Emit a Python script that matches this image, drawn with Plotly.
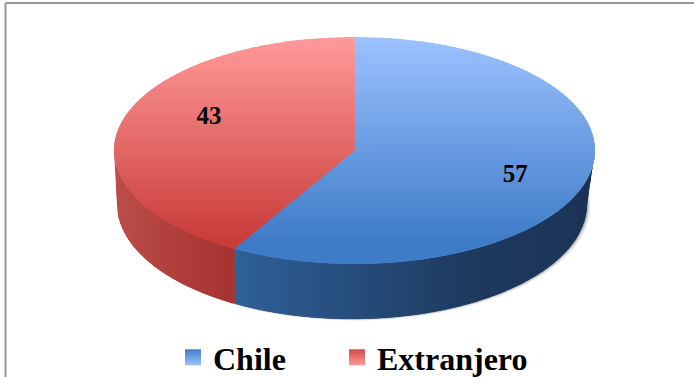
import math
import plotly.graph_objects as go

categories = ["Chile", "Extranjero"]
values = [57, 43]

W, H = 694, 377
PLOT_H = 330  # height left for the plot once the legends have reserved their room
TOP = dict(cx=354.5, cy=150.5, rx=240.5, ry=113.5)
BOT = dict(cx=352.0, cy=204.0, rx=235.0, ry=115.0)
PERSPECTIVE = 1.227
FONT = "Liberation Serif"
TOP_STOPS = {
    "Chile": [(37, "#9CC2FF"), (240, "#3F7CC8")],
    "Extranjero": [(37, "#FF9A9A"), (240, "#C93C39")],
}
SIDE_STOPS = {
    "Chile": [(234, "#2F6099"), (470, "#1E3A5F"), (596, "#1B3355")],
    "Extranjero": [(114, "#BC4D49"), (236, "#A5322E")],
}
LEGEND_TOP = {"Chile": "#9CC2FF", "Extranjero": "#FF9A9A"}
LEGEND_BOT = {"Chile": "#3F7CC8", "Extranjero": "#CF4B47"}
LEGEND_LEFT = {"Chile": 173, "Extranjero": 337}
LEGEND_MID_Y = 357.5
LABEL_R = [0.70, 0.677]
LABEL_SHIFT = [2.2, 11.7]
LABEL_DY = 2


def visual(deg):
    t = math.radians(deg)
    v = math.degrees(math.atan2(math.sin(t) * PERSPECTIVE, math.cos(t)))
    while v < deg - 90:
        v += 360
    return v


def pt(e, deg, r=1.0):
    t = math.radians(deg)
    return (e["cx"] + r * e["rx"] * math.sin(t), e["cy"] - r * e["ry"] * math.cos(t))


def arc(e, a, b, n=140):
    return [pt(e, a + (b - a) * i / n) for i in range(n + 1)]


def hexrgb(c):
    return tuple(int(c[i:i + 2], 16) for i in (1, 3, 5))


def ramp(stops, v):
    if v <= stops[0][0]:
        return stops[0][1]
    for (p0, c0), (p1, c1) in zip(stops, stops[1:]):
        if v <= p1:
            f = (v - p0) / (p1 - p0)
            a, b = hexrgb(c0), hexrgb(c1)
            return "#%02x%02x%02x" % tuple(round(a[i] + (b[i] - a[i]) * f) for i in range(3))
    return stops[-1][1]


def clip(poly, axis, lo, hi):
    def half(p, keep, cut):
        out = []
        for i in range(len(p)):
            s, e = p[i - 1], p[i]
            ks, ke = keep(s), keep(e)
            if ks != ke:
                f = (cut - s[axis]) / (e[axis] - s[axis])
                out.append((s[0] + (e[0] - s[0]) * f, s[1] + (e[1] - s[1]) * f))
            if ke:
                out.append(e)
        return out
    p = half(poly, lambda q: q[axis] >= lo, lo)
    return half(p, lambda q: q[axis] <= hi, hi) if p else p


fig = go.Figure()


def strip(poly, color):
    if len(poly) < 3:
        return
    fig.add_trace(go.Scatter(
        x=[q[0] for q in poly] + [poly[0][0]], y=[q[1] for q in poly] + [poly[0][1]],
        mode="lines", fill="toself", fillcolor=color,
        line=dict(width=0), hoverinfo="skip", showlegend=False))


total = sum(values)
bounds, acc = [], 0
for v in values:
    bounds.append((visual(360 * acc / total), visual(360 * (acc + v) / total)))
    acc += v
bounds[-1] = (bounds[-1][0], 360.0)

# soft shadow under the base
for off, col in [(2.6, "#ececec"), (1.6, "#d4d4d4"), (0.8, "#a8a8a8")]:
    sh = dict(BOT, cx=BOT["cx"] + off * 0.9, cy=BOT["cy"] + off * 0.6, rx=BOT["rx"] + off * 0.5, ry=BOT["ry"])
    strip(arc(sh, 60, 265), col)

# side wall: narrow vertical bands, each overlapped by the next
for name, (a, b) in zip(categories, bounds):
    lo, hi = max(a, 90), min(b, 270)
    if lo < hi:
        poly = arc(TOP, lo, hi) + arc(BOT, hi, lo)
        xs = [q[0] for q in poly]
        x = math.floor(min(xs))
        while x < max(xs):
            strip(clip(poly, 0, x, x + 5), ramp(SIDE_STOPS[name], x + 1))
            x += 2

# top face: narrow horizontal bands, each overlapped by the next
for name, (a, b) in zip(categories, bounds):
    poly = [(TOP["cx"], TOP["cy"])] + arc(TOP, a, b, 240)
    ys = [q[1] for q in poly]
    y = math.floor(min(ys))
    while y < max(ys):
        strip(clip(poly, 1, y, y + 5), ramp(TOP_STOPS[name], y + 1))
        y += 2

# value labels
for v, (a, b), r, s in zip(values, bounds, LABEL_R, LABEL_SHIFT):
    x, y = pt(TOP, (a + b) / 2 + s, r)
    fig.add_trace(go.Scatter(x=[x], y=[y + LABEL_DY], mode="text", text=[str(v)], hoverinfo="skip", showlegend=False,
                             textfont=dict(family=FONT, size=25, color="#000000", weight=700)))

# legend entries, one legend box each so that they can be spaced as drawn
legend_ids = ["legend", "legend2"]
legend_boxes = {}
for name, lid in zip(categories, legend_ids):
    fig.add_trace(go.Scatter(
        x=[None], y=[None], mode="markers", name=name, legend=lid,
        marker=dict(symbol="square", size=17, color=LEGEND_BOT[name],
                    gradient=dict(type="vertical", color=LEGEND_TOP[name]))))
    legend_boxes[lid] = dict(
        orientation="h", xref="container", yref="container",
        x=LEGEND_LEFT[name] / W, xanchor="left",
        y=1 - LEGEND_MID_Y / H, yanchor="middle",
        bgcolor="rgba(0,0,0,0)",
        font=dict(family=FONT, size=32, color="#000000", weight=700),
        itemsizing="trace")

BORDER_X = 5.5 / W
BORDER_Y = 1 - 3 / PLOT_H
BORDER_END = 1 - H / PLOT_H

fig.update_layout(
    width=W, height=H, margin=dict(l=0, r=0, t=0, b=0),
    paper_bgcolor="white", plot_bgcolor="white",
    xaxis=dict(range=[0, W], visible=False, fixedrange=True),
    yaxis=dict(range=[PLOT_H, 0], visible=False, fixedrange=True),
    shapes=[
        dict(type="line", xref="paper", yref="paper", x0=BORDER_X, x1=BORDER_X, y0=BORDER_END, y1=BORDER_Y,
             line=dict(color="#999999", width=2)),
        dict(type="line", xref="paper", yref="paper", x0=BORDER_X, x1=1, y0=BORDER_Y, y1=BORDER_Y,
             line=dict(color="#999999", width=2)),
    ],
    **legend_boxes,
)
fig.write_html("out.html", config=dict(displayModeBar=False),
               post_script="document.body.style.margin='0';document.body.style.overflow='hidden';")
